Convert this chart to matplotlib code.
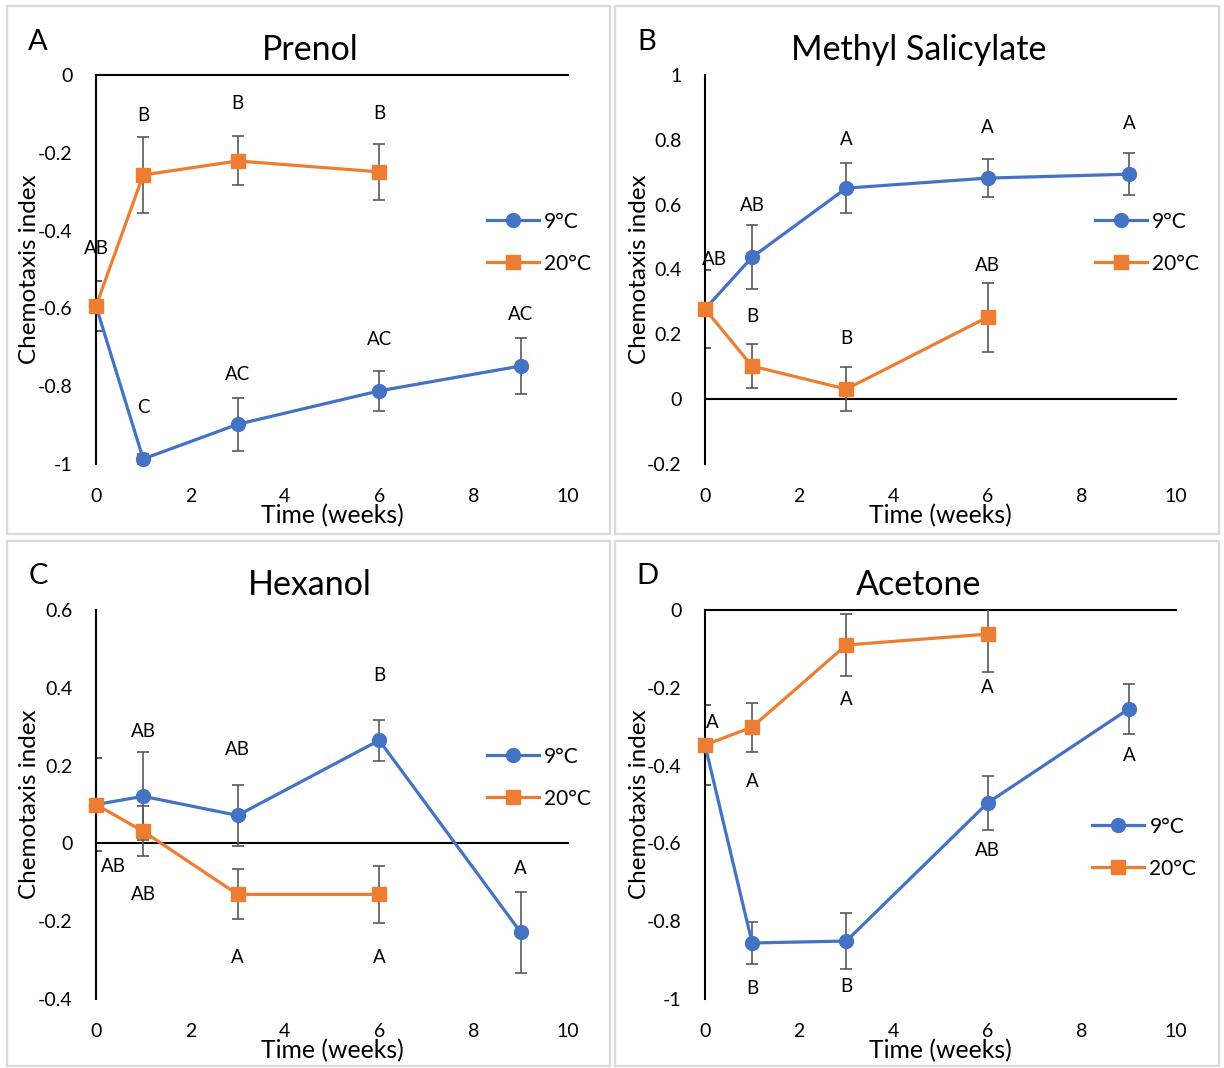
import matplotlib
matplotlib.use("Agg")
import matplotlib.pyplot as plt
from matplotlib.patches import Rectangle
from matplotlib.lines import Line2D
from matplotlib.ticker import FuncFormatter

plt.rcParams["font.family"] = ["Lato", "DejaVu Sans"]
plt.rcParams["axes.unicode_minus"] = False

# ---------------------------------------------------
# data
# ---------------------------------------------------
weeks_9 = [0, 1, 3, 6, 9]
weeks_20 = [0, 1, 3, 6]
series_names = ["9°C", "20°C"]
panel_letters = ["A", "B", "C", "D"]
titles = ["Prenol", "Methyl Salicylate", "Hexanol", "Acetone"]

prenol_9 = [-0.594, -0.987, -0.898, -0.812, -0.748]
prenol_9_err = [0.064, 0.012, 0.068, 0.052, 0.072]
prenol_20 = [-0.594, -0.257, -0.221, -0.249]
prenol_20_err = [0.064, 0.097, 0.063, 0.072]

ms_9 = [0.278, 0.438, 0.651, 0.682, 0.694]
ms_9_err = [0.12, 0.098, 0.076, 0.058, 0.065]
ms_20 = [0.278, 0.102, 0.031, 0.253]
ms_20_err = [0.12, 0.068, 0.068, 0.106]

hex_9 = [0.10, 0.121, 0.072, 0.265, -0.229]
hex_9_err = [0.12, 0.113, 0.078, 0.053, 0.103]
hex_20 = [0.10, 0.031, -0.131, -0.131]
hex_20_err = [0.12, 0.064, 0.064, 0.073]

ace_9 = [-0.347, -0.856, -0.851, -0.496, -0.254]
ace_9_err = [0.104, 0.053, 0.071, 0.070, 0.064]
ace_20 = [-0.347, -0.301, -0.090, -0.062]
ace_20_err = [0.104, 0.063, 0.080, 0.098]

# y ranges / ticks per panel
y_limits = [(-1, 0), (-0.2, 1), (-0.4, 0.6), (-1, 0)]
y_ticks = [
    [0, -0.2, -0.4, -0.6, -0.8, -1],
    [1, 0.8, 0.6, 0.4, 0.2, 0, -0.2],
    [0.6, 0.4, 0.2, 0, -0.2, -0.4],
    [0, -0.2, -0.4, -0.6, -0.8, -1],
]
x_ticks = [0, 2, 4, 6, 8, 10]

# significance letters: (text, week, y)
letters_A = [("AB", 0, -0.445), ("B", 1, -0.104), ("B", 3, -0.072), ("B", 6, -0.098),
             ("C", 1, -0.856), ("AC", 3, -0.769), ("AC", 6, -0.681), ("AC", 9, -0.616)]
letters_B = [("AB", 0.21, 0.432), ("AB", 1, 0.596), ("A", 3, 0.802), ("A", 6, 0.839),
             ("A", 9, 0.851), ("B", 1, 0.256), ("B", 3, 0.188), ("AB", 6, 0.413)]
letters_C = [("AB", 0.38, -0.059), ("AB", 1, 0.288), ("AB", 3, 0.242), ("B", 6, 0.432),
             ("AB", 1, -0.131), ("A", 3, -0.293), ("A", 6, -0.293), ("A", 9, -0.064)]
letters_D = [("A", 0.15, -0.288), ("A", 1, -0.44), ("A", 3, -0.229), ("A", 6, -0.2),
             ("A", 9, -0.375), ("AB", 6, -0.617), ("B", 1, -0.974), ("B", 3, -0.969)]

panels = [
    (prenol_9, prenol_9_err, prenol_20, prenol_20_err, letters_A),
    (ms_9, ms_9_err, ms_20, ms_20_err, letters_B),
    (hex_9, hex_9_err, hex_20, hex_20_err, letters_C),
    (ace_9, ace_9_err, ace_20, ace_20_err, letters_D),
]

# ---------------------------------------------------
# layout in pixels
# ---------------------------------------------------
W, H = 1224, 1068
BLUE = "#4472C4"
ORANGE = "#ED7D31"
ERR = "#595959"

# axes boxes: left, right, top, bottom
ax_boxes = [(96, 568, 75, 464), (705, 1176, 75, 464),
            (96, 568, 610, 999), (705, 1176, 610, 999)]
# panel frames: left, top, right, bottom
frames = [(7, 6, 610, 534), (615, 6, 1219, 534),
          (7, 541, 610, 1066), (615, 541, 1219, 1066)]
letter_pos = [(38, 42), (647, 42), (38, 576), (647, 576)]
# legend anchors (axes coords)
legend_anchor = [(0.828, 0.569), (0.828, 0.569), (0.828, 0.569), (0.822, 0.389)]

fig = plt.figure(figsize=(W / 100, H / 100), dpi=100)
fig.patch.set_facecolor("white")

for fl, ft, fr, fb in frames:
    fig.add_artist(Rectangle((fl / W, 1 - fb / H), (fr - fl) / W, (fb - ft) / H,
                             transform=fig.transFigure, fill=False,
                             edgecolor="#D9D9D9", linewidth=1.6))

for i, (y9, e9, y20, e20, letters) in enumerate(panels):
    l, r, t, b = ax_boxes[i]
    ax = fig.add_axes([l / W, 1 - b / H, (r - l) / W, (b - t) / H])
    ax.set_xlim(0, 10)
    ax.set_ylim(*y_limits[i])

    for s in ["top", "right", "bottom"]:
        ax.spines[s].set_visible(False)
    ax.spines["left"].set_linewidth(1.5)
    ax.spines["left"].set_color("black")
    ax.axhline(0, color="black", linewidth=1.5, zorder=1, clip_on=False)

    ax.set_xticks(x_ticks)
    ax.set_yticks(y_ticks[i])
    ax.yaxis.set_major_formatter(FuncFormatter(lambda v, p: f"{v:g}"))
    ax.tick_params(axis="both", length=0, labelsize=14)
    ax.tick_params(axis="x", pad=17.5)
    ax.tick_params(axis="y", pad=17)

    # error bars (clipped to the plot area, like the original)
    ax.errorbar(weeks_9, y9, yerr=e9, fmt="none", ecolor=ERR, elinewidth=1.2,
                capsize=4.3, capthick=1.2, zorder=2)
    ax.errorbar(weeks_20, y20, yerr=e20, fmt="none", ecolor=ERR, elinewidth=1.2,
                capsize=4.3, capthick=1.2, zorder=2)
    ax.plot(weeks_9, y9, color=BLUE, linewidth=2.3, marker="o", markersize=10,
            clip_on=False, zorder=3)
    ax.plot(weeks_20, y20, color=ORANGE, linewidth=2.3, marker="s", markersize=10,
            clip_on=False, zorder=4)

    for txt, xx, yy in letters:
        ax.text(xx, yy, txt, ha="center", va="center", fontsize=13.5)

    ax.text(0.453, 1.064, titles[i], transform=ax.transAxes, ha="center",
            va="center", fontsize=24.5)
    ax.set_ylabel("Chemotaxis index", fontsize=17.5)
    ax.yaxis.set_label_coords(-0.14, 0.5)
    ax.set_xlabel("Time (weeks)", fontsize=17.8)
    ax.xaxis.set_label_coords(0.5, -0.134)
    ax.xaxis.label.set_va("center")
    ax.yaxis.label.set_va("center")

    handles = [Line2D([], [], color=BLUE, linewidth=2.3, marker="o", markersize=10),
               Line2D([], [], color=ORANGE, linewidth=2.3, marker="s", markersize=10)]
    ax.legend(handles, series_names, loc="center left",
              bbox_to_anchor=legend_anchor[i], frameon=False, fontsize=15,
              handlelength=2.5, handletextpad=0.25, labelspacing=1.05,
              borderpad=0, borderaxespad=0, numpoints=1)

    lx, ly = letter_pos[i]
    fig.text(lx / W, 1 - ly / H, panel_letters[i], ha="center", va="center",
             fontsize=21)

fig.savefig("out.png", dpi=100, facecolor="white")
